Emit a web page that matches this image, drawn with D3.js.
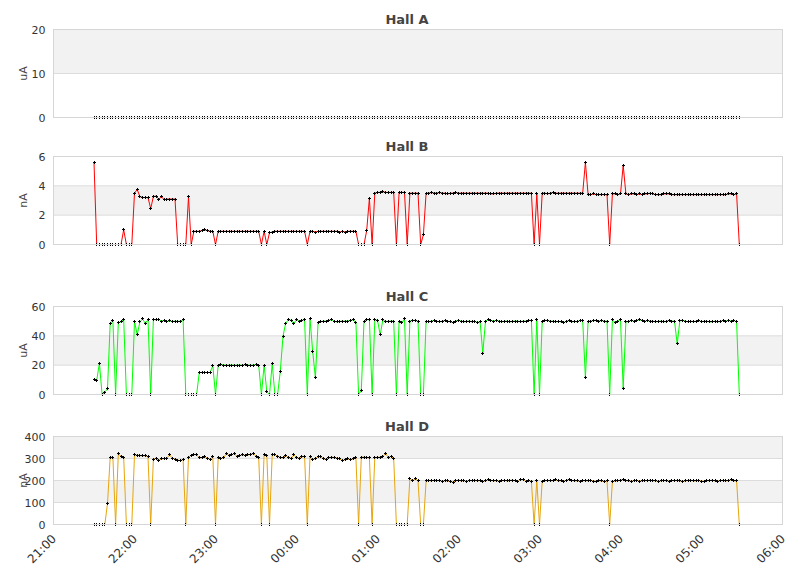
<!DOCTYPE html>
<html><head><meta charset="utf-8">
<script src="https://cdn.jsdelivr.net/npm/d3@7"></script>
<style>body{margin:0;background:#fff}svg{display:block}</style>
</head><body>
<svg id="chart" width="811" height="578"></svg>
<script>
const panelTitles = ["Hall A", "Hall B", "Hall C", "Hall D"];
const panelUnits = ["uA", "nA", "uA", "nA"];
const panelMax = [20, 6, 60, 400];
const panelTickStep = [10, 2, 20, 100];
const panelColors = ["#000000", "#ff0000", "#00ff00", "#e6a50e"];
const xDomain = ["2020-01-01T21:00", "2020-01-02T06:00"];
const sampleStart = "2020-01-01T21:30";
const sampleStepMinutes = 2;

const hallA = [
0,0,0,0,0,0,0,0,0,0,0,0,0,0,0,0,0,0,0,0,
0,0,0,0,0,0,0,0,0,0,0,0,0,0,0,0,0,0,0,0,
0,0,0,0,0,0,0,0,0,0,0,0,0,0,0,0,0,0,0,0,
0,0,0,0,0,0,0,0,0,0,0,0,0,0,0,0,0,0,0,0,
0,0,0,0,0,0,0,0,0,0,0,0,0,0,0,0,0,0,0,0,
0,0,0,0,0,0,0,0,0,0,0,0,0,0,0,0,0,0,0,0,
0,0,0,0,0,0,0,0,0,0,0,0,0,0,0,0,0,0,0,0,
0,0,0,0,0,0,0,0,0,0,0,0,0,0,0,0,0,0,0,0,
0,0,0,0,0,0,0,0,0,0,0,0,0,0,0,0,0,0,0,0,
0,0,0,0,0,0,0,0,0,0,0,0,0,0,0,0,0,0,0,0,
0,0,0,0,0,0,0,0,0,0,0,0,0,0,0,0,0,0,0,0,
0,0,0,0,0,0,0,0,0,0,0,0,0,0,0,0,0,0,0,0
];

const hallB = [
5.6,0,0,0,0,0,0,0,0,0, 0,1.0,0,0,0,3.5,3.75,3.27,3.2,3.2,
3.2,2.45,3.27,3.3,3.1,3.25,3.05,3.1,3.1,3.1, 3.1,0,0,0,0,3.25,0,0.9,0.9,0.9,
0.95,1.0,0.95,0.9,0.9,0,0.9,0.9,0.9,0.9, 0.9,0.9,0.9,0.9,0.9,0.9,0.9,0.9,0.9,0.9,
0.9,0.9,0,0.9,0,0.8,0.85,0.9,0.9,0.9, 0.9,0.9,0.9,0.9,0.9,0.9,0.9,0.9,0.9,0,
0.9,0.9,0.85,0.9,0.9,0.9,0.9,0.9,0.9,0.9, 0.9,0.85,0.9,0.85,0.9,0.9,0.9,0.9,0,0,
0,0.95,3.15,0,3.5,3.55,3.55,3.6,3.55,3.55, 3.55,3.55,0,3.55,3.55,3.55,0,3.5,3.5,3.5,
3.5,0,0.66,3.5,3.5,3.55,3.5,3.5,3.55,3.5, 3.5,3.45,3.5,3.5,3.55,3.5,3.5,3.5,3.5,3.5,
3.5,3.5,3.5,3.5,3.5,3.5,3.5,3.45,3.45,3.5, 3.5,3.5,3.5,3.5,3.5,3.5,3.5,3.5,3.5,3.5,
3.5,3.5,3.5,0,3.45,0,3.5,3.5,3.45,3.5, 3.55,3.5,3.5,3.5,3.5,3.5,3.5,3.5,3.5,3.5,
3.5,3.5,5.6,3.4,3.4,3.45,3.4,3.4,3.4,3.4, 3.4,0,3.45,3.45,3.4,3.45,5.4,3.45,3.4,3.45,
3.45,3.4,3.45,3.4,3.45,3.45,3.5,3.45,3.4,3.4, 3.4,3.45,3.45,3.45,3.4,3.4,3.4,3.4,3.4,3.4,
3.4,3.4,3.4,3.4,3.4,3.4,3.4,3.4,3.4,3.4, 3.4,3.4,3.4,3.4,3.4,3.45,3.45,3.4,3.45,0
];

const hallC = [
10.2,9.5,21.3,0,1.5,3.9,48.6,50.2,0,48.8, 49.5,51,0,0,0,49.8,40.7,49.5,51.5,48.5,
51,0,51.3,50.8,51.3,50,50.5,49.8,50.2,49.8, 50,49.8,50,51,0,0,0,0,0,15,
15,15,15,15,19.8,0,19.8,20.5,20,20, 20,20,20,20,20,20,20.5,20,20,20,
20.5,20,0,20,2,0,21,0,0,15.9, 39.8,48.6,51,50.5,48.4,51,50,50.5,51,0,
51.5,29.3,11.4,49,49.5,50,50,50.5,51,50, 49.5,49.8,50,50,50,50.5,51,49,0,2.5,
50,51,51,0,51,50.5,40.8,51,49.5,50, 50,50,0,50,49,51.5,0,50,50.5,50.5,
50,0,0,50,49.5,50,50.5,50,49.5,50, 50.5,50,49.5,49,50,50.5,50,49.5,50,50,
49.5,50,49,49.5,28.2,50,51,50.5,50,50.5, 50,49.5,50,50,49.5,50,50,50,49.5,50,
50,50.5,50.5,0,51,0,50,50.5,50.5,50, 50,49.5,50,49.5,49,50,50.5,49.5,50,49.5,
50.5,50.5,11.4,50,50,50.5,50.5,50,50.5,50, 50,0,51,49,50,51,3.9,49.5,50,50.5,
50,50.5,51,50.5,50,50.5,50,50,49.5,50, 50,49.5,50,50.5,50,50,34.5,50.5,50.5,50,
49.5,50,49.5,50,50.5,49.5,50,50,49.5,49.5, 50,49.5,50,50.5,50,50.5,50,50.5,49.5,0
];

const hallD = [
0,0,0,0,0,95,306,305,0,321, 310,303,0,0,0,316,315,313,312,313,
307,0,297,302,292,298,300,302,316,302, 297,293,290,297,0,306,315,318,317,303,
305,308,302,296,310,0,304,300,304,321, 315,316,323,308,313,316,314,316,319,323,
310,304,0,316,314,0,316,318,310,305, 303,314,305,300,316,305,300,307,310,0,
310,296,300,307,310,298,296,303,306,304, 302,298,290,295,298,294,298,305,0,306,
306,305,303,0,305,305,306,310,322,305, 310,300,0,0,0,0,0,210,200,207,
199,0,0,198,200,198,202,199,201,197, 200,198,196,191,199,202,198,200,197,201,
199,202,198,200,196,199,203,201,198,200, 197,199,201,198,200,202,199,196,203,205,
197,199,196,0,200,0,197,199,201,198, 200,203,198,199,196,202,205,200,198,199,
197,199,200,198,201,197,196,199,198,196, 198,0,195,198,199,202,205,200,198,196,
199,201,197,198,200,199,202,198,200,196, 199,201,198,197,200,199,201,198,196,199,
200,202,198,199,201,197,196,200,199,202, 198,197,199,201,198,200,203,199,198,0
];

const seriesList = [hallA, hallB, hallC, hallD];

// layout
const plotLeft = 53.5, plotRight = 782.5, plotHeight = 88;
const panelTops = [29.5, 156.5, 306.5, 436.5];

const svg = d3.select("#chart");
const parse = d3.timeParse("%Y-%m-%dT%H:%M");
const t0 = parse(sampleStart);
const x = d3.scaleTime().domain(xDomain.map(parse)).range([plotLeft, plotRight]);

seriesList.forEach((values, p) => {
  const top = panelTops[p], bottom = top + plotHeight;
  const y = d3.scaleLinear().domain([0, panelMax[p]]).range([bottom, top]);
  const ticks = d3.range(0, panelMax[p] + 1e-9, panelTickStep[p]);
  const g = svg.append("g");
  const pts = values.map((v, i) => ({ t: d3.timeMinute.offset(t0, i * sampleStepMinutes), v }));

  // bands
  for (let k = 0; k < ticks.length - 1; k++) {
    if (k % 2 === 1) {
      g.append("rect").attr("x", plotLeft).attr("y", y(ticks[k + 1]))
        .attr("width", plotRight - plotLeft).attr("height", y(ticks[k]) - y(ticks[k + 1]))
        .attr("fill", "#f2f2f2");
    }
  }
  // grid
  g.selectAll(".grid").data(ticks.slice(1, -1)).enter().append("line")
    .attr("x1", plotLeft).attr("x2", plotRight)
    .attr("y1", d => y(d)).attr("y2", d => y(d))
    .attr("stroke", "#dcdcdc").attr("stroke-width", 1);

  // clip
  const cid = "clip" + p;
  svg.append("clipPath").attr("id", cid).append("rect")
    .attr("x", plotLeft).attr("y", top).attr("width", plotRight - plotLeft).attr("height", plotHeight);

  // line
  if (p > 0) {
    g.append("path").datum(pts)
      .attr("clip-path", `url(#${cid})`)
      .attr("fill", "none").attr("stroke", panelColors[p]).attr("stroke-width", 1)
      .attr("d", d3.line().x(d => x(d.t)).y(d => y(d.v)));
  }
  // markers (+)
  let md = "";
  pts.forEach(d => {
    const px = Math.floor(x(d.t)), py = Math.floor(y(d.v));
    md += `M${px - 1},${py}h3v1h-3z M${px},${py - 1}h1v3h-1z `;
  });
  g.append("path").attr("d", md).attr("fill", "#000");

  // border
  g.append("rect").attr("x", plotLeft).attr("y", top)
    .attr("width", plotRight - plotLeft).attr("height", plotHeight)
    .attr("fill", "none").attr("stroke", "#d6d6d6").attr("stroke-width", 1);

  // y axis labels
  const ax = g.append("g").attr("transform", `translate(${plotLeft - 8},0)`)
    .call(d3.axisLeft(y).tickValues(ticks).tickSize(0).tickPadding(0).tickFormat(d3.format("d")));
  ax.select(".domain").remove();
  ax.selectAll("text").attr("fill", "#333").style("font-family", "DejaVu Sans")
    .style("font-size", "11px");

  // unit label
  g.append("text").attr("transform", `translate(27,${(top + bottom) / 2}) rotate(-90)`)
    .attr("text-anchor", "middle").attr("fill", "#444")
    .style("font-family", "DejaVu Sans").style("font-size", "11px")
    .text(panelUnits[p]);

  // title
  g.append("text").attr("x", 407).attr("y", top - 5.5)
    .attr("text-anchor", "middle").attr("fill", "#444")
    .style("font-family", "DejaVu Sans").style("font-weight", "bold").style("font-size", "13px")
    .text(panelTitles[p]);

  if (p === seriesList.length - 1) {
    const xa = svg.append("g").attr("transform", `translate(0,${bottom})`)
      .call(d3.axisBottom(x).ticks(d3.timeHour.every(1)).tickSize(0).tickFormat(d3.timeFormat("%H:%M")));
    xa.select(".domain").remove();
    xa.selectAll("text")
      .attr("x", 0).attr("y", 0).attr("dy", null)
      .attr("transform", "translate(3,15) rotate(-45)")
      .attr("text-anchor", "end").attr("fill", "#333")
      .style("font-family", "DejaVu Sans").style("font-size", "12px");
  }
});
</script>
</body></html>
